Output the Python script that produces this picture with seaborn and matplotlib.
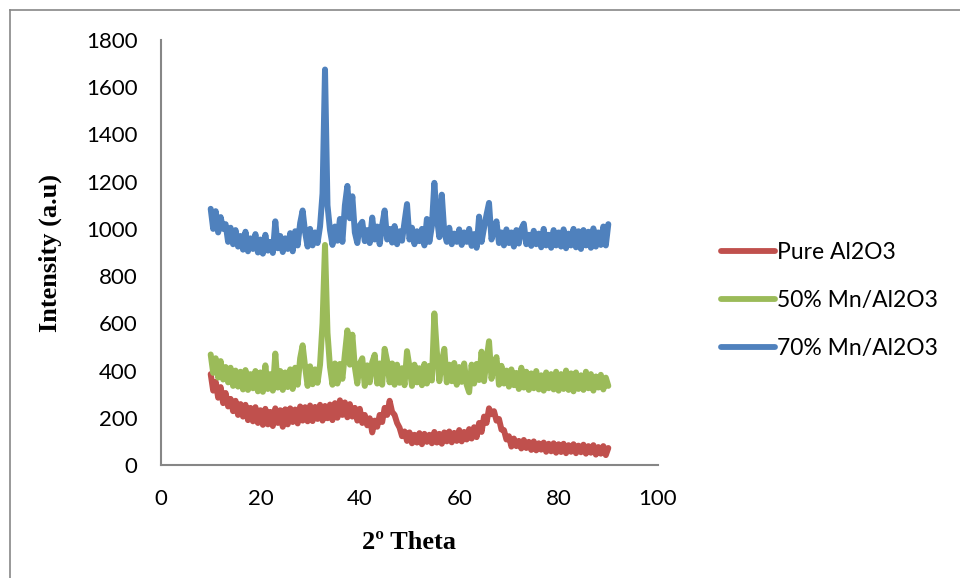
import numpy as np
import pandas as pd
import matplotlib
matplotlib.use("Agg")
import matplotlib.pyplot as plt
import seaborn as sns
from matplotlib.lines import Line2D

# 2-theta scan grid (10 -> 90, step 0.5)
two_theta = np.linspace(10, 90, 161)

# Intensidades (a.u)
pure_al2o3 = [
    385, 315, 352, 285, 330, 262, 305, 248, 280, 228,
    272, 212, 258, 205, 255, 190, 242, 185, 245, 178,
    232, 170, 238, 172, 225, 165, 240, 178, 232, 162,
    236, 172, 240, 182, 235, 176, 248, 188, 245, 185,
    252, 186, 246, 195, 255, 188, 250, 198, 256, 190,
    262, 200, 274, 212, 265, 202, 258, 205, 242, 188,
    238, 178, 212, 168, 198, 138, 188, 162, 212, 182,
    242, 212, 272, 225, 212, 178, 158, 122, 142, 102,
    138, 92, 128, 95, 135, 88, 132, 98, 128, 92,
    140, 95, 132, 90, 138, 100, 142, 96, 136, 102,
    148, 100, 140, 108, 152, 112, 160, 118, 178, 140,
    205, 178, 240, 215, 228, 188, 195, 150, 148, 108,
    122, 78, 112, 80, 102, 70, 106, 72, 98, 64,
    100, 62, 92, 65, 95, 56, 90, 58, 92, 52,
    88, 55, 90, 50, 84, 56, 88, 50, 82, 54,
    86, 48, 80, 52, 84, 44, 76, 48, 80, 42,
    72,
]

mn50_al2o3 = [
    468, 390, 452, 370, 440, 362, 415, 350, 412, 335,
    400, 332, 395, 320, 402, 318, 385, 325, 398, 312,
    392, 310, 422, 322, 385, 315, 472, 328, 398, 318,
    392, 330, 405, 322, 412, 340, 452, 507, 415, 335,
    418, 342, 405, 348, 425, 600, 932, 560, 415, 340,
    430, 345, 428, 365, 470, 570, 425, 552, 415, 345,
    430, 452, 335, 422, 350, 435, 467, 345, 430, 340,
    492, 440, 350, 430, 340, 425, 348, 410, 338, 482,
    415, 335, 425, 350, 410, 338, 428, 345, 420, 358,
    642, 480, 355, 435, 492, 350, 425, 355, 432, 340,
    415, 352, 430, 340, 308, 425, 345, 428, 360, 480,
    355, 445, 524, 365, 425, 457, 340, 420, 345, 400,
    332, 405, 338, 390, 322, 412, 328, 395, 318, 388,
    325, 398, 320, 380, 315, 392, 325, 385, 320, 395,
    315, 385, 322, 400, 318, 388, 312, 392, 322, 380,
    318, 395, 325, 385, 315, 375, 328, 382, 320, 370,
    335,
]

mn70_al2o3 = [
    1085, 1000, 1075, 985, 1050, 1000, 1020, 945, 1005, 935,
    995, 925, 970, 912, 988, 905, 960, 915, 978, 900,
    955, 895, 975, 908, 945, 898, 1032, 918, 970, 902,
    960, 915, 982, 905, 990, 930, 1025, 1078, 985, 925,
    1000, 930, 985, 940, 1010, 1150, 1675, 1100, 995, 932,
    1010, 950, 1042, 945, 1100, 1182, 1045, 1138, 985, 940,
    1015, 1030, 948, 995, 940, 1048, 955, 1010, 935, 1015,
    1078, 955, 1000, 942, 1012, 935, 990, 950, 1030, 1105,
    955, 1005, 935, 990, 948, 1000, 930, 1042, 945, 1012,
    1195, 1050, 965, 1145, 985, 945, 1005, 935, 980, 945,
    998, 932, 985, 945, 1000, 928, 978, 920, 1052, 945,
    1005, 1060, 1110, 955, 995, 1032, 940, 985, 930, 998,
    940, 985, 925, 995, 938, 1000, 1022, 935, 975, 928,
    992, 935, 980, 922, 1000, 930, 975, 920, 995, 930,
    985, 925, 998, 918, 980, 930, 1000, 922, 990, 915,
    995, 930, 988, 920, 1002, 925, 985, 932, 1010, 930,
    1020,
]

series_names = ["Pure Al2O3", "50% Mn/Al2O3", "70% Mn/Al2O3"]
cores = ["#C0504D", "#9BBB59", "#4F81BD"]

df = pd.concat([
    pd.DataFrame({"theta": two_theta, "intensity": vals, "amostra": nome})
    for nome, vals in zip(series_names, [pure_al2o3, mn50_al2o3, mn70_al2o3])
])

fig = plt.figure(figsize=(9.6, 5.78), dpi=100)
ax = fig.add_axes([161 / 960, 1 - 465 / 578, (658 - 161) / 960, (465 - 40) / 578])

sns.lineplot(data=df, x="theta", y="intensity", hue="amostra",
             hue_order=series_names, palette=cores, estimator=None,
             linewidth=4.3, legend=False, ax=ax)
for ln in ax.lines:
    ln.set_solid_joinstyle("round")
    ln.set_solid_capstyle("round")

ax.set_xlim(0, 100)
ax.set_ylim(0, 1800)
ax.set_xticks(range(0, 101, 20))
ax.set_yticks(range(0, 1801, 200))
ax.tick_params(length=0, labelsize=16, colors="black")
ax.tick_params(axis="y", pad=17)
ax.tick_params(axis="x", pad=17)
for lab in ax.get_xticklabels() + ax.get_yticklabels():
    lab.set_family("Lato")

for s in ["top", "right"]:
    ax.spines[s].set_visible(False)
for s in ["left", "bottom"]:
    ax.spines[s].set_color("#868686")
    ax.spines[s].set_linewidth(1.5)

ax.set_xlabel("2\u00ba Theta", family="Liberation Serif", fontweight="bold",
              fontsize=19, labelpad=16)
ax.set_ylabel("Intensity (a.u)", family="Liberation Serif", fontweight="bold",
              fontsize=19, labelpad=17)

handles = [Line2D([0], [0], color=c, linewidth=4.2, solid_capstyle="round")
           for c in cores]
fig.legend(handles, series_names, loc="upper left",
           bbox_to_anchor=(700 / 960, 1 - 221 / 578), frameon=False,
           prop={"family": "Lato", "size": 16.5}, handlelength=2.36,
           handletextpad=0.1, labelspacing=1.18)

# moldura externa (estilo Excel)
fig.add_artist(Line2D([10 / 960, 10 / 960], [0, 1 - 10 / 578],
                      transform=fig.transFigure, color="#888888", linewidth=1.2))
fig.add_artist(Line2D([10 / 960, 1], [1 - 10 / 578, 1 - 10 / 578],
                      transform=fig.transFigure, color="#888888", linewidth=1.2))

fig.savefig("out.png", dpi=100)
